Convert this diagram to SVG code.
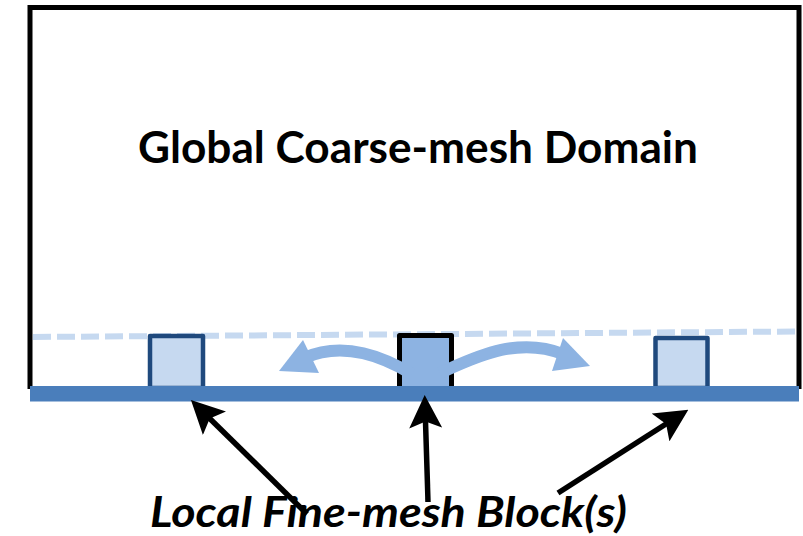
<svg xmlns="http://www.w3.org/2000/svg" width="803" height="536" viewBox="0 0 803 536">
  <defs>
    <style>
      .frame{fill:none;stroke:#000;stroke-width:5;stroke-linejoin:miter}
      .bar{fill:#4a7ebb}
      .dash{fill:none;stroke:#c6d9f0;stroke-width:6;stroke-dasharray:18 6}
      .blk{fill:#c6d9f0;stroke:#1f497d;stroke-width:4.5;stroke-linejoin:round}
      .blkmid{fill:#8db3e2;stroke:#000;stroke-width:5;stroke-linejoin:round}
      .flow{fill:none;stroke:#8db3e2;stroke-width:12;stroke-linecap:butt}
      .flowhead{fill:#8db3e2}
      .ptr{fill:none;stroke:#000;stroke-width:5.5}
      .title{font-family:"Lato","Liberation Sans",sans-serif;font-weight:bold;fill:#000}
      .label{font-family:"Lato","Liberation Sans",sans-serif;font-weight:bold;font-style:italic;fill:#000}
    </style>
    <marker id="ah" markerWidth="6" markerHeight="6" refX="4.2" refY="3" orient="auto" markerUnits="strokeWidth" viewBox="0 0 6 6">
      <path d="M0,0 L6,3 L0,6 L1.2,3 Z" fill="#000"/>
    </marker>
  </defs>

  <g id="domain">
    <path class="frame" d="M30,389 L30,7.5 L799,7.5 L799,389"/>
    <text class="title" x="418" y="163" text-anchor="middle" font-size="43" textLength="560" lengthAdjust="spacingAndGlyphs">Global Coarse-mesh Domain</text>
  </g>

  <g id="interface">
    <line class="dash" x1="33" y1="337" x2="795" y2="331.5"/>
  </g>

  <g id="block-left">
    <rect class="blk" x="150" y="336" width="53" height="52"/>
  </g>
  <g id="block-middle">
    <rect class="blkmid" x="399.5" y="335.5" width="52" height="53"/>
  </g>
  <g id="block-right">
    <rect class="blk" x="655.5" y="338" width="52" height="50"/>
  </g>

  <g id="boundary">
    <rect class="bar" x="30" y="386" width="769" height="15.5"/>
  </g>

  <g id="connectors">
    <path class="flow" d="M412,374 C385,358 345,340 304,358"/>
    <polygon class="flowhead" points="279,371 303,340 319,373"/>
    <path class="flow" d="M440,373 C470,360 515,335 563,354"/>
    <polygon class="flowhead" points="590,366 563,338 552,371"/>
    <line class="ptr" x1="307" y1="514" x2="198" y2="407" marker-end="url(#ah)"/>
    <line class="ptr" x1="428" y1="502" x2="425" y2="405" marker-end="url(#ah)"/>
    <line class="ptr" x1="558" y1="493" x2="680" y2="415" marker-end="url(#ah)"/>
  </g>

  <g id="label">
    <text class="label" x="388.5" y="527" text-anchor="middle" font-size="42" textLength="477" lengthAdjust="spacingAndGlyphs">Local Fine-mesh Block(s)</text>
  </g>
</svg>
